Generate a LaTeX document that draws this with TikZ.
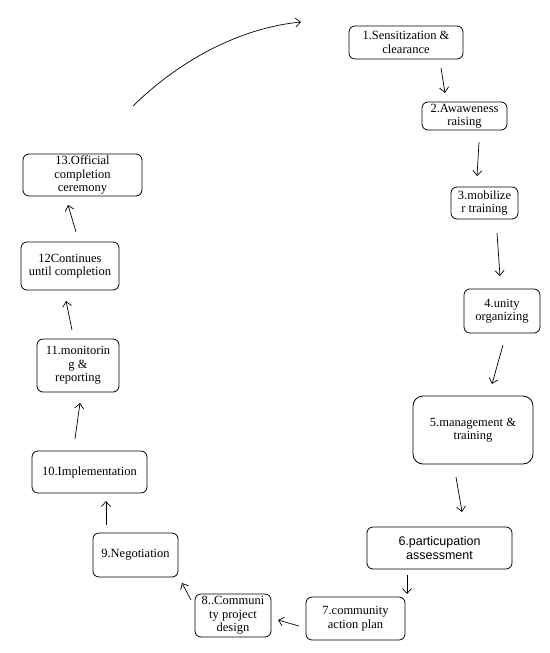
\documentclass[tikz,border=0pt]{standalone}
\usepackage{fontspec}
\setmainfont{Liberation Serif}
\newfontfamily\arialfont{Liberation Sans}
\usetikzlibrary{arrows.meta}
\tikzset{
  stepbox/.style={draw=black, line width=0.8pt, rounded corners=6pt, align=center,
    inner sep=0pt, font=\fontsize{12.5}{13.5}\selectfont, text=black},
  flowarrow/.style={draw=black, line width=0.7pt, -{Straight Barb[length=5pt,width=9pt]}},
}
\begin{document}
\begin{tikzpicture}[x=1pt,y=-1pt]
\useasboundingbox[fill=white] (0,0) rectangle (549,653);
\node[stepbox, minimum width=114pt, minimum height=33pt] (n1) at (406,42.5) {1.Sensitization \&\\clearance};
\node[stepbox, minimum width=85pt, minimum height=28pt] (n2) at (464.5,116) {2.Awaweness\\raising};
\node[stepbox, minimum width=67pt, minimum height=32pt] (n3) at (484.5,203) {3.mobilize\\r training};
\node[stepbox, minimum width=76pt, minimum height=44pt] (n4) at (502,311) {4.unity\\organizing};
\node[stepbox, minimum width=120pt, minimum height=68pt, rounded corners=10pt] (n5) at (473,430) {5.management \&\\training};
\node[stepbox, minimum width=145pt, minimum height=42pt, font=\arialfont\fontsize{12.5}{13.5}\selectfont] (n6) at (439.5,548) {6.particupation\\assessment};
\node[stepbox, minimum width=99pt, minimum height=43pt] (n7) at (355.5,618.5) {7.community\\action plan};
\node[stepbox, minimum width=76pt, minimum height=43pt] (n8) at (233,615.5) {8..Communi\\ty project\\design};
\node[stepbox, minimum width=85pt, minimum height=44pt] (n9) at (135.5,555) {9.Negotiation};
\node[stepbox, minimum width=115pt, minimum height=42pt] (n10) at (89.5,472) {10.Implementation};
\node[stepbox, minimum width=82pt, minimum height=53pt] (n11) at (78,365.5) {11.monitorin\\g \&\\reporting};
\node[stepbox, minimum width=98pt, minimum height=48pt] (n12) at (70,266) {12Continues\\until completion};
\node[stepbox, minimum width=119pt, minimum height=42pt] (n13) at (82.5,175) {13.Official\\completion\\ceremony};

\coordinate (a1s) at (441,68);   \coordinate (a1e) at (445,93);
\coordinate (a2s) at (479,142);  \coordinate (a2e) at (477,176);
\coordinate (a3s) at (497,233);  \coordinate (a3e) at (500,276);
\coordinate (a4s) at (503,345);  \coordinate (a4e) at (492,384);
\coordinate (a5s) at (456,477);  \coordinate (a5e) at (462,512);
\coordinate (a6s) at (407,575);  \coordinate (a6e) at (407,594);
\coordinate (a7s) at (299,626);  \coordinate (a7e) at (278,620);
\coordinate (a8s) at (191,600);  \coordinate (a8e) at (182,583);
\coordinate (a9s) at (106,525);  \coordinate (a9e) at (106,501);
\coordinate (a10s) at (75,439);  \coordinate (a10e) at (80,403);
\coordinate (a11s) at (72,330);  \coordinate (a11e) at (66,301);
\coordinate (a12s) at (76,232);  \coordinate (a12e) at (68,205);
\coordinate (c0) at (133,106);   \coordinate (c1) at (301,22);

\draw[flowarrow] (a1s) -- (a1e);
\draw[flowarrow] (a2s) -- (a2e);
\draw[flowarrow] (a3s) -- (a3e);
\draw[flowarrow] (a4s) -- (a4e);
\draw[flowarrow] (a5s) -- (a5e);
\draw[flowarrow] (a6s) -- (a6e);
\draw[flowarrow] (a7s) -- (a7e);
\draw[flowarrow] (a8s) -- (a8e);
\draw[flowarrow] (a9s) -- (a9e);
\draw[flowarrow] (a10s) -- (a10e);
\draw[flowarrow] (a11s) -- (a11e);
\draw[flowarrow] (a12s) -- (a12e);
\draw[flowarrow] (c0) .. controls (180,60) and (240,28) .. (c1);
\end{tikzpicture}
\end{document}
